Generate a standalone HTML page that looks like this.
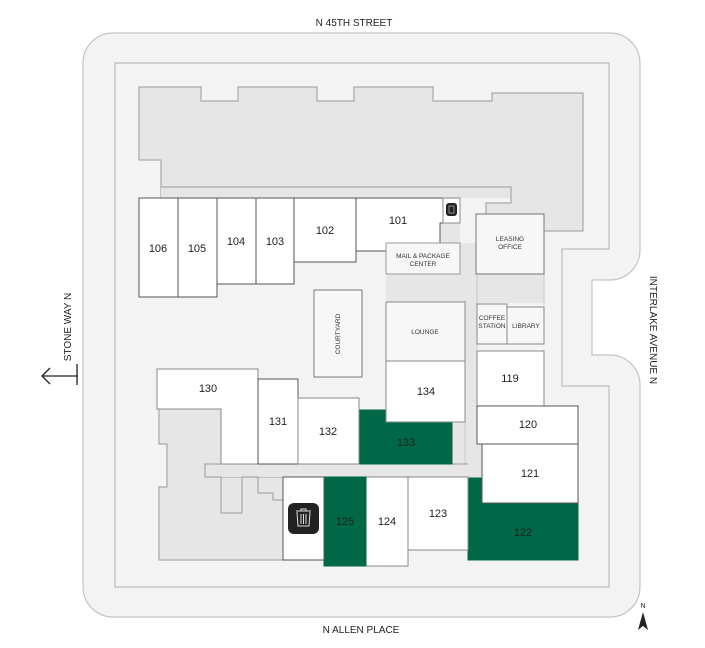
<!DOCTYPE html>
<html><head><meta charset="utf-8"><style>
html,body{margin:0;padding:0;background:#fff;}
svg{display:block;font-family:"Liberation Sans",sans-serif;}
</style></head><body>
<svg width="705" height="648" viewBox="0 0 705 648" xmlns="http://www.w3.org/2000/svg">
<path d="M113,33 H610 A30,30 0 0 1 640,63 V250 A30,30 0 0 1 610,280 H592 V355 H610 A30,30 0 0 1 640,385 V587 A30,30 0 0 1 610,617 H113 A30,30 0 0 1 83,587 V63 A30,30 0 0 1 113,33 Z" fill="#f3f3f3" stroke="#c4c4c4" stroke-width="1.2"/>
<path d="M115,63 H609 V249 H562 V386 H609 V587 H115 Z" fill="#f3f3f3" stroke="#bdbdbd" stroke-width="1.2"/>
<path d="M139,87 H201 V101 H238 V87 H317 V101 H354 V87 H433 V101 H492 V93 H583 V231 H544 V214 H486 V203 H511 V187 H161 V198 H161 V160 H139 Z" fill="#e6e6e6" stroke="#9a9a9a" stroke-width="1"/>
<rect x="161" y="187" width="350" height="11" fill="#e6e6e6"/>
<path d="M161,187 H511 V203 H486 V214" fill="none" stroke="#9a9a9a" stroke-width="1"/>
<rect x="386" y="243" width="158" height="60" fill="#e6e6e6"/>
<rect x="440" y="223" width="20" height="22" fill="#e6e6e6"/>
<rect x="465" y="300" width="12" height="178" fill="#e6e6e6"/>
<rect x="452" y="405" width="30" height="73" fill="#e6e6e6"/>
<path d="M465,300 V478 M477,274 V350" stroke="#c8c8c8" stroke-width="1" fill="none"/>
<path d="M544,274 V305" stroke="#c8c8c8" stroke-width="1"/>
<path d="M159,409 H221 V464 H205 V477 H283 V560 H159 V487 H167 V444 H159 Z" fill="#e6e6e6" stroke="#9a9a9a" stroke-width="1"/>
<rect x="205" y="464" width="263" height="13" fill="#e6e6e6"/>
<path d="M205,464 V477 H221 V513 H242 V477 H258 V493 H273 V500 H283" fill="none" stroke="#9a9a9a" stroke-width="1"/>
<path d="M205,464 H468 M283,477 H468" stroke="#9a9a9a" stroke-width="1"/>
<g stroke="#555" stroke-width="1" fill="#fff">
<rect x="139" y="198" width="39" height="99"/>
<rect x="178" y="198" width="39" height="99"/>
<rect x="217" y="198" width="39" height="86"/>
<rect x="256" y="198" width="38" height="86"/>
<rect x="294" y="198" width="62" height="64"/>
<path d="M356,198 H443 V223 H440 V243 H386 V251 H356 Z"/>
<rect x="443" y="198" width="17" height="25" stroke="#888"/>
<rect x="386" y="243" width="74" height="31" fill="#f7f7f7" stroke="#999"/>
<rect x="476" y="214" width="68" height="60" fill="#f7f7f7" stroke="#777"/>
<rect x="314" y="290" width="48" height="87" fill="#f7f7f7" stroke="#777"/>
<rect x="386" y="302" width="79" height="59" fill="#f7f7f7" stroke="#888"/>
<rect x="477" y="304" width="30" height="40" fill="#f7f7f7" stroke="#888"/>
<rect x="507" y="307" width="37" height="37" fill="#f7f7f7" stroke="#888"/>
<rect x="359" y="410" width="93" height="54" fill="#006847" stroke="#006847"/>
<rect x="386" y="361" width="79" height="61" stroke="#888"/>
<rect x="477" y="351" width="67" height="55" stroke="#888"/>
<rect x="468" y="478" width="110" height="82" fill="#006847" stroke="#006847"/>
<rect x="477" y="406" width="101" height="38"/>
<rect x="482" y="444" width="96" height="59"/>
<rect x="408" y="477" width="60" height="73" stroke="#888"/>
<rect x="366" y="477" width="42" height="89" stroke="#888"/>
<rect x="324" y="477" width="42" height="89" fill="#006847" stroke="#006847"/>
<rect x="283" y="477" width="41" height="83"/>
<path d="M157,369 H258 V464 H221 V409 H157 Z" stroke="#888"/>
<rect x="258" y="379" width="40" height="85"/>
<rect x="298" y="398" width="61" height="66" stroke="#888"/>
</g>
<rect x="446" y="203" width="11" height="13" rx="3" fill="#222"/>
<rect x="449" y="206" width="5" height="7" fill="none" stroke="#aaa" stroke-width="0.8"/>
<rect x="288" y="503" width="31" height="31" rx="6" fill="#222"/>
<g stroke="#ddd" stroke-width="1" fill="none">
<path d="M296,511 H311 M301,511 V509 H306 V511 M297,512 L298,526 H309 L310,512"/>
<path d="M301,514 V524 M303.5,514 V524 M306,514 V524"/>
</g>
<g font-size="11" fill="#222" text-anchor="middle">
<text x="158" y="252">106</text><text x="197" y="252">105</text>
<text x="236" y="245">104</text><text x="275" y="245">103</text>
<text x="325" y="234">102</text><text x="398" y="224">101</text>
<text x="208" y="392">130</text>
<text x="278" y="425">131</text><text x="328" y="435">132</text>
<text x="406" y="446">133</text><text x="426" y="395">134</text>
<text x="510" y="382">119</text><text x="528" y="428">120</text>
<text x="530" y="477">121</text><text x="523" y="536">122</text>
<text x="438" y="517">123</text><text x="387" y="525">124</text>
<text x="345" y="525">125</text>
</g>
<g font-size="6.5" fill="#333" text-anchor="middle">
<text x="423" y="258">MAIL &amp; PACKAGE</text><text x="423" y="266">CENTER</text>
<text x="510" y="241">LEASING</text><text x="510" y="249">OFFICE</text>
<text x="425" y="334">LOUNGE</text>
<text x="492" y="320">COFFEE</text><text x="492" y="328">STATION</text>
<text x="526" y="328">LIBRARY</text>
<text transform="translate(340,334) rotate(-90)">COURTYARD</text>
</g>
<g font-size="10" fill="#222" text-anchor="middle">
<text x="354" y="26">N 45TH STREET</text>
<text x="361" y="633">N ALLEN PLACE</text>
<text transform="translate(71,327) rotate(-90)">STONE WAY N</text>
<text transform="translate(650,330) rotate(90)">INTERLAKE AVENUE N</text>
</g>
<path d="M42,376 H78 M77,364 V385 M50,368 L42,376 L50,384" stroke="#222" stroke-width="1.3" fill="none"/>
<text x="643" y="608" font-size="7" text-anchor="middle" fill="#222">N</text>
<path d="M643,612 L638,630 L643,626 L648,630 Z" fill="#222"/>
</svg>
</body></html>
